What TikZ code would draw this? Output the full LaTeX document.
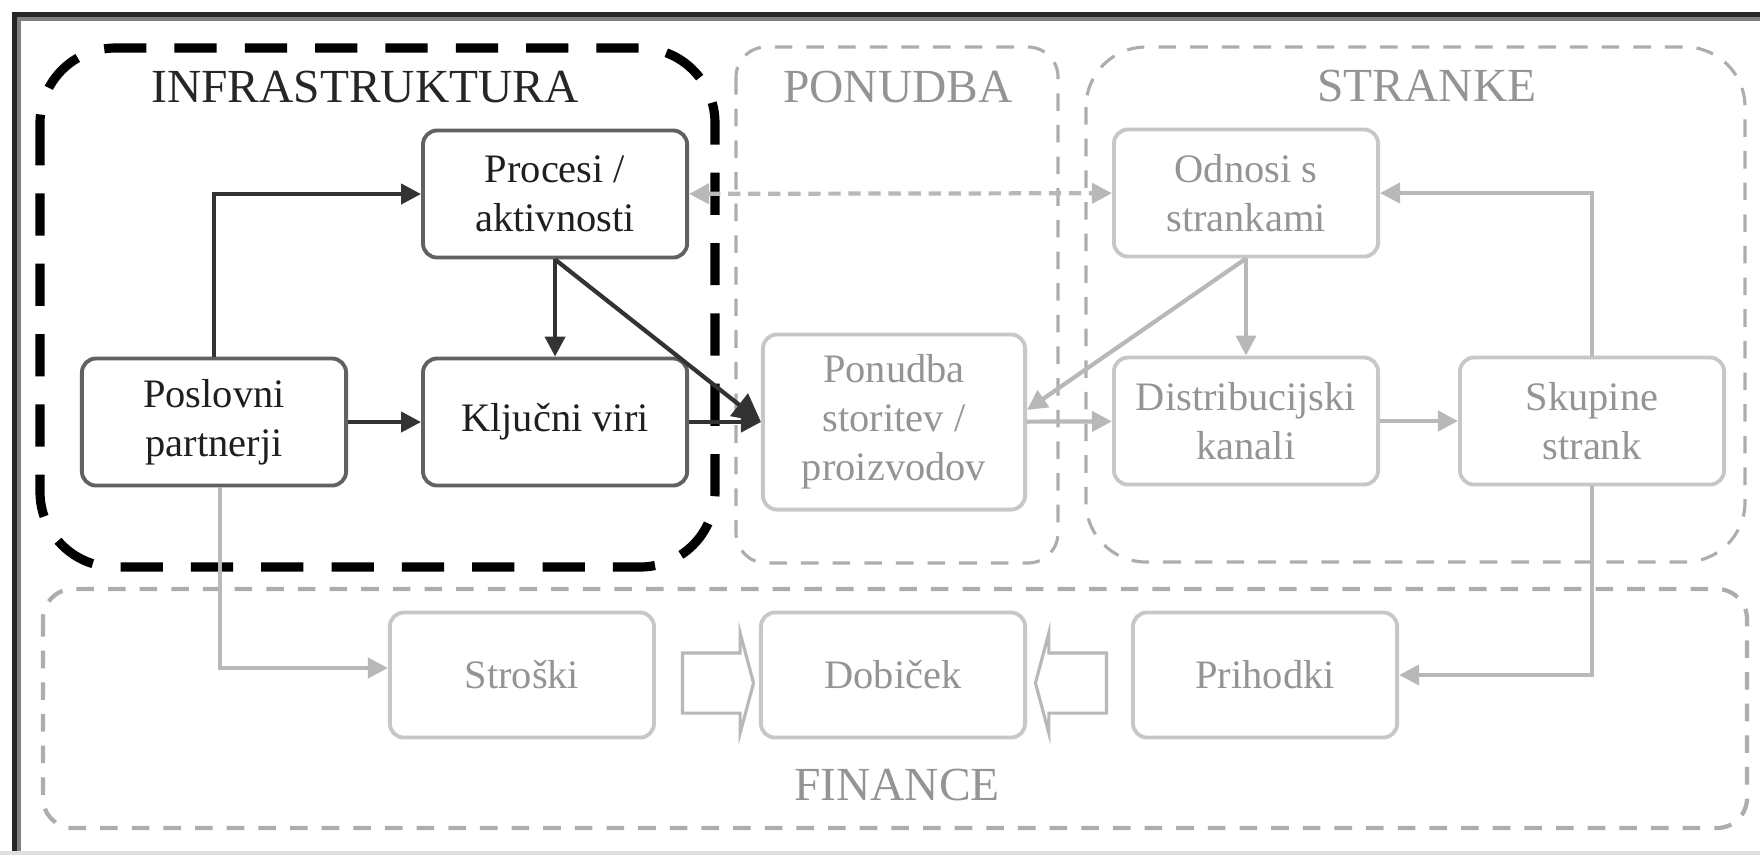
\documentclass[tikz,border=0pt]{standalone}
\usepackage{fontspec}
\setmainfont{Liberation Serif}
\usetikzlibrary{arrows.meta,positioning,shapes.arrows}

\tikzset{
  blkbox/.style={draw=black!62, line width=1.1pt, rounded corners=4pt,
    minimum width=2.64cm, minimum height=1.27cm, align=center,
    text=black!88, font=\fontsize{11.5}{14}\selectfont},
  grybox/.style={blkbox, draw=black!22, text=black!42},
  titletext/.style={font=\fontsize{13.5}{16}\selectfont},
  groupframe/.style={draw=black!32, line width=0.9pt, dash pattern=on 5pt off 4pt},
  link/.style={->, line width=1.2pt, draw=black!80},
  greylink/.style={->, line width=1.2pt, draw=black!28},
  fatarrow/.style={single arrow, draw=black!28, line width=0.9pt,
    minimum height=0.71cm, single arrow head extend=0.2cm,
    single arrow tip angle=150, inner xsep=0pt, inner ysep=0.285cm}
}

\begin{document}
\begin{tikzpicture}[x=0.01cm, y=-0.01cm, >={Triangle[length=0.2cm,width=0.2cm]}]
  \useasboundingbox (0,0) rectangle (1760,856);
  % outer frame
  \draw[black!85, line width=1.5pt] (14.5,852) -- (14.5,14.5) -- (1760,14.5);
  \draw[black!50, line width=1.1pt] (19,852) -- (19,19) -- (1760,19);
  \draw[black!12, line width=1.2pt] (0,853) -- (1760,853);

  % groups
  \draw[line width=2.6pt, dash pattern=on 12pt off 8pt, rounded corners=0.75cm] (40,48) rectangle (715,567);
  \draw[groupframe, rounded corners=0.3cm] (736,47) rectangle (1058,563);
  \draw[groupframe, rounded corners=0.6cm] (1086,47) rectangle (1745,562);
  \draw[groupframe, line width=1.2pt, rounded corners=0.3cm] (43,589) rectangle (1747,828);

  \node[titletext, text=black!85] (infratitle) at (365,87) {INFRASTRUKTURA};
  \node[titletext, text=black!42] (ponudbatitle) at (898,87) {PONUDBA};
  \node[titletext, text=black!42] (stranketitle) at (1427,86) {STRANKE};
  \node[titletext, text=black!42] (financetitle) at (897,785) {FINANCE};

  % infrastruktura
  \node[blkbox] (poslovni) at (214,422) {Poslovni\\partnerji};
  \node[blkbox] (kljucni) [right=0.73cm of poslovni] {Ključni viri};
  \node[blkbox] (procesi) [above=0.97cm of kljucni] {Procesi /\\aktivnosti};

  % ponudba, stranke
  \node[grybox, minimum width=2.62cm, minimum height=1.75cm] (ponudba) at (894,422) {Ponudba\\storitev /\\proizvodov};
  \node[grybox] (distrib) at (1246,421) {Distribucijski\\kanali};
  \node[grybox] (odnosi) [above=0.97cm of distrib] {Odnosi s\\strankami};
  \node[grybox] (skupine) at (1592,421) {Skupine\\strank};

  % finance
  \node[grybox, minimum height=1.25cm] (dobicek) at (893,675) {Dobiček};
  \node[grybox, minimum height=1.25cm] (stroski) [left=1.03cm of dobicek] {Stroški};
  \node[grybox, minimum height=1.25cm] (prihodki) [right=1.04cm of dobicek] {Prihodki};
  \node[fatarrow] (strtodob) at (714,683) {};
  \node[fatarrow, shape border rotate=180] (pritodob) at (1075,683) {};

  \draw[link] (poslovni.north) |- (procesi.west);
  \draw[link] (poslovni) -- (kljucni);
  \draw[link] (procesi) -- (kljucni);
  \draw[link, >={Triangle[length=0.28cm,width=0.28cm]}] (procesi.south) -- (ponudba.west);
  \draw[link] (kljucni) -- (ponudba);

  \draw[greylink, <->, dash pattern=on 3.5pt off 2.2pt] (procesi) -- (odnosi);
  \draw[greylink] (odnosi) -- (distrib);
  \draw[greylink] (odnosi.south) -- ([yshift=0.12cm]ponudba.east);
  \draw[greylink] (ponudba) -- (distrib);
  \draw[greylink] (distrib) -- (skupine);
  \draw[greylink] (skupine.north) |- (odnosi.east);
  \draw[greylink] (skupine.south) |- (prihodki.east);
  \draw[greylink] ([xshift=0.06cm]poslovni.south) |- ([yshift=0.07cm]stroski.west);
\end{tikzpicture}
\end{document}
